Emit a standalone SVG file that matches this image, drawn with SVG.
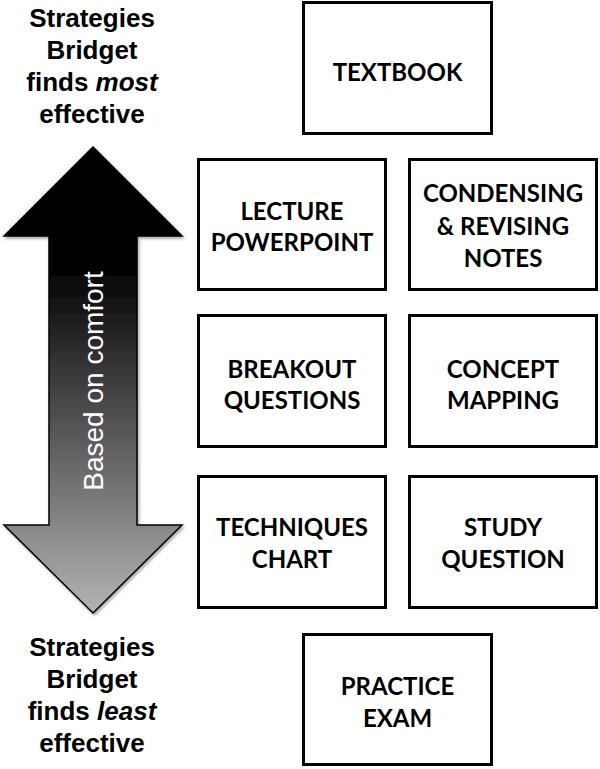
<svg xmlns="http://www.w3.org/2000/svg" width="600" height="769" viewBox="0 0 600 769">
<defs>
<linearGradient id="arrowGrad" gradientUnits="userSpaceOnUse" x1="0" y1="147" x2="0" y2="613">
<stop offset="0" stop-color="#000"/>
<stop offset="0.25" stop-color="#000"/>
<stop offset="1" stop-color="#b4b4b4"/>
</linearGradient>
<filter id="shadow" x="-10%" y="-10%" width="130%" height="130%">
<feDropShadow dx="1.5" dy="2" stdDeviation="1.5" flood-color="#000" flood-opacity="0.35"/>
</filter>
<style>
.box{fill:#fff;stroke:#000;stroke-width:3}
.lbl{font-family:Lato,"Open Sans",sans-serif;font-weight:700;font-size:24px;fill:#000;text-anchor:middle}
.side{font-family:"Liberation Sans",Arial,sans-serif;font-weight:700;font-size:26px;fill:#000;text-anchor:middle}
.axis{font-family:"Liberation Sans",Arial,sans-serif;font-size:28px;fill:#fff;text-anchor:middle}
</style>
</defs>
<rect width="600" height="769" fill="#fff"/>

<g id="arrow">
<polygon points="93,147 182,236 137,236 137,525 182,525 93,613 4,525 49,525 49,236 4,236" fill="url(#arrowGrad)" stroke="#000" stroke-width="1.5" stroke-linejoin="miter" filter="url(#shadow)"/>
<text class="axis" transform="translate(103,381) rotate(-90)">Based on comfort</text>
</g>

<g id="label-most">
<text class="side" x="92" y="27">Strategies</text>
<text class="side" x="92" y="59">Bridget</text>
<text class="side" x="92" y="91">finds <tspan font-style="italic">most</tspan></text>
<text class="side" x="92" y="123">effective</text>
</g>

<g id="label-least">
<text class="side" x="92" y="656">Strategies</text>
<text class="side" x="92" y="688">Bridget</text>
<text class="side" x="92" y="720">finds <tspan font-style="italic">least</tspan></text>
<text class="side" x="92" y="752">effective</text>
</g>

<g id="textbook">
<rect class="box" x="303.5" y="2.5" width="188" height="131"/>
<text class="lbl" x="397.5" y="81">TEXTBOOK</text>
</g>

<g id="lecture-powerpoint">
<rect class="box" x="198.5" y="159.5" width="187" height="130"/>
<text class="lbl" x="292" y="220">LECTURE</text>
<text class="lbl" x="292" y="251">POWERPOINT</text>
</g>

<g id="condensing-notes">
<rect class="box" x="409.5" y="159.5" width="187" height="130"/>
<text class="lbl" x="503" y="202">CONDENSING</text>
<text class="lbl" x="503" y="235">&amp; REVISING</text>
<text class="lbl" x="503" y="267">NOTES</text>
</g>

<g id="breakout-questions">
<rect class="box" x="198.5" y="315.5" width="187" height="131"/>
<text class="lbl" x="292" y="378">BREAKOUT</text>
<text class="lbl" x="292" y="409">QUESTIONS</text>
</g>

<g id="concept-mapping">
<rect class="box" x="409.5" y="315.5" width="187" height="131"/>
<text class="lbl" x="503" y="378">CONCEPT</text>
<text class="lbl" x="503" y="409">MAPPING</text>
</g>

<g id="techniques-chart">
<rect class="box" x="198.5" y="476.5" width="187" height="131"/>
<text class="lbl" x="292" y="536">TECHNIQUES</text>
<text class="lbl" x="292" y="568">CHART</text>
</g>

<g id="study-question">
<rect class="box" x="409.5" y="476.5" width="187" height="131"/>
<text class="lbl" x="503" y="536">STUDY</text>
<text class="lbl" x="503" y="568">QUESTION</text>
</g>

<g id="practice-exam">
<rect class="box" x="303.5" y="634.5" width="188" height="130"/>
<text class="lbl" x="397.5" y="695">PRACTICE</text>
<text class="lbl" x="397.5" y="727">EXAM</text>
</g>

<g id="connectors"/>
</svg>
